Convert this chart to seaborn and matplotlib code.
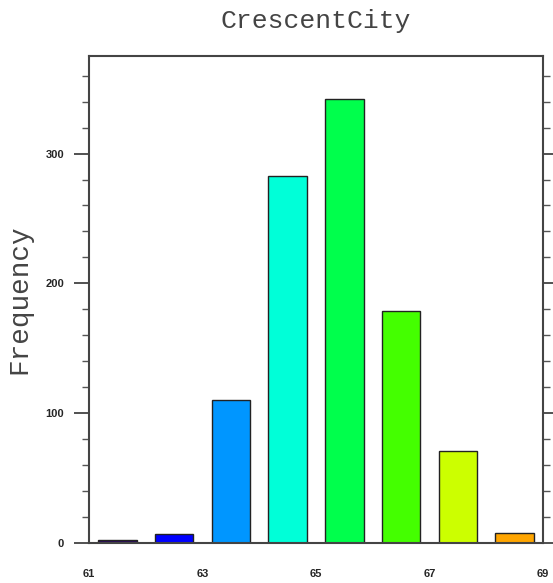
import matplotlib
matplotlib.use("Agg")
import matplotlib.pyplot as plt
import seaborn as sns
import pandas as pd
from matplotlib.ticker import MultipleLocator, FixedLocator, FixedFormatter

# histogram of temperatures, bins of width 1 from 61 to 69
bin_centers = [61.5, 62.5, 63.5, 64.5, 65.5, 66.5, 67.5, 68.5]
counts = [2, 7, 110, 283, 342, 179, 71, 8]
bar_colors = ["#2a0a5c", "#0000ff", "#0096ff", "#00ffd8",
              "#00ff4c", "#44ff00", "#ccff00", "#ffa500"]
x_ticks = list(range(61, 70))
x_labels = ["61", "", "63", "", "65", "", "67", "", "69"]
title = "CrescentCity"

df = pd.DataFrame({"center": bin_centers, "count": counts,
                   "bin": [str(c) for c in bin_centers]})

sns.set_style("white")
fig = plt.figure(figsize=(5.53, 5.83), dpi=100)
ax = fig.add_axes([0.161, 0.0686, 0.821, 0.835])

sns.barplot(data=df, x="center", y="count", hue="bin", palette=bar_colors,
            native_scale=True, dodge=False, width=0.68, legend=False,
            edgecolor="#222222", linewidth=1.0, saturation=1, ax=ax)

ax.set_xlim(61, 69)
ax.set_ylim(0, 375)

ax.xaxis.set_major_locator(FixedLocator(x_ticks))
ax.xaxis.set_major_formatter(FixedFormatter(x_labels))
ax.yaxis.set_major_locator(MultipleLocator(100))
ax.yaxis.set_minor_locator(MultipleLocator(20))

ax.tick_params(axis="x", which="major", direction="out", length=11,
               width=1.2, color="#333333", labelsize=8, pad=8)
ax.tick_params(axis="y", which="major", direction="out", length=11,
               width=1.2, color="#333333", labelsize=8, pad=7,
               right=True, left=True)
ax.tick_params(axis="y", which="minor", direction="out", length=5,
               width=1.0, color="#555555", right=True, left=True)
for lab in ax.get_xticklabels() + ax.get_yticklabels():
    lab.set_fontweight("bold")
    lab.set_family("Liberation Sans")

for sp in ax.spines.values():
    sp.set_visible(True)
    sp.set_linewidth(1.5)
    sp.set_color("#444444")

ax.set_xlabel("")
ax.set_ylabel("Frequency", family="Liberation Mono", fontsize=20,
              color="#444444", labelpad=9)
ax.set_title(title, family="Liberation Mono", fontsize=19,
             color="#444444", pad=20)

fig.savefig("out.png", dpi=100)
